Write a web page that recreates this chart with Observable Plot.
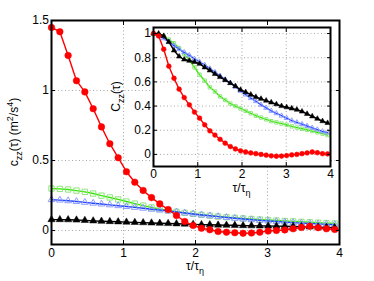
<!DOCTYPE html>
<html><head><meta charset="utf-8">
<script src="https://cdn.jsdelivr.net/npm/d3@7"></script>
<script src="https://cdn.jsdelivr.net/npm/@observablehq/plot@0.6"></script>
<style>
body{margin:0;background:#fff;}
#wrap{position:relative;width:374px;height:281px;}
#wrap svg{position:absolute;}
</style></head><body><div id="wrap"></div>
<script>
const tau = [0,0.116,0.231,0.347,0.463,0.579,0.694,0.810,0.926,1.041,1.157,1.273,1.389,1.504,1.620,1.736,1.851,1.967,2.083,2.199,2.314,2.430,2.546,2.661,2.777,2.893,3.009,3.124,3.240,3.356,3.471,3.587,3.703,3.819,3.934];
// main: c_zz(tau) (m^2/s^4)
const cRed = [1.45,1.42,1.25,1.07,0.99,0.87,0.74,0.62,0.52,0.42,0.345,0.286,0.235,0.19,0.15,0.107,0.064,0.036,0.016,0.005,-0.007,-0.012,-0.016,-0.02,-0.018,-0.012,-0.004,0.0,0.004,0.012,0.022,0.03,0.02,0.012,0.007];
const cGreen = [0.30,0.297,0.293,0.285,0.276,0.264,0.249,0.236,0.222,0.207,0.192,0.178,0.165,0.153,0.143,0.134,0.126,0.119,0.112,0.106,0.100,0.095,0.090,0.086,0.082,0.078,0.075,0.071,0.068,0.065,0.062,0.059,0.056,0.053,0.050];
const cBlue = [0.22,0.217,0.212,0.207,0.201,0.195,0.189,0.183,0.177,0.171,0.165,0.159,0.152,0.146,0.139,0.132,0.125,0.118,0.111,0.105,0.099,0.093,0.087,0.082,0.077,0.072,0.068,0.064,0.060,0.056,0.053,0.050,0.047,0.044,0.041];
const cBlack = [0.078,0.078,0.077,0.075,0.072,0.069,0.066,0.064,0.062,0.060,0.058,0.056,0.054,0.052,0.050,0.048,0.046,0.044,0.042,0.041,0.039,0.038,0.037,0.035,0.034,0.033,0.032,0.031,0.030,0.029,0.027,0.026,0.024,0.022,0.020];
// inset: normalised C_zz(tau)
const CRed = [1.0,0.98,0.87,0.73,0.63,0.54,0.47,0.41,0.35,0.30,0.245,0.195,0.16,0.125,0.093,0.065,0.045,0.03,0.02,0.012,0.006,0.0,-0.006,-0.012,-0.015,-0.014,-0.01,-0.004,0.0,0.006,0.012,0.02,0.014,0.006,0.004];
const CGreen = [1.0,0.99,0.975,0.95,0.92,0.88,0.83,0.78,0.72,0.66,0.61,0.555,0.52,0.48,0.45,0.42,0.40,0.38,0.36,0.34,0.32,0.305,0.29,0.275,0.265,0.255,0.245,0.232,0.222,0.212,0.203,0.193,0.183,0.172,0.16];
const CBlue = [1.0,0.985,0.96,0.93,0.90,0.87,0.845,0.82,0.79,0.765,0.74,0.71,0.68,0.65,0.62,0.59,0.56,0.525,0.495,0.465,0.44,0.41,0.385,0.36,0.34,0.32,0.30,0.28,0.265,0.25,0.235,0.22,0.205,0.19,0.18];
const CBlack = [1.0,1.0,0.98,0.93,0.86,0.81,0.785,0.775,0.765,0.75,0.72,0.695,0.665,0.64,0.615,0.59,0.565,0.535,0.515,0.495,0.475,0.46,0.445,0.43,0.415,0.40,0.39,0.38,0.37,0.355,0.335,0.315,0.295,0.275,0.26];
// ticks
const mainXTicks = [0,1,2,3,4];
const mainYTicks = [0,0.5,1,1.5];
const insetXTicks = [0,1,2,3,4];
const insetYTicks = [0,0.2,0.4,0.6,0.8,1];

const font = '"Liberation Sans", Arial, Helvetica, sans-serif';
const rows = ys => tau.map((t,i)=>({t, v: ys[i]}));
const grid = {stroke:"#a8a8a8", strokeOpacity:1, strokeDasharray:"1,2.5", strokeWidth:1};
const RED="#ff0000", GREEN="#33e600", GREENM="#8fe67c", BLUE="#2244ff", BLUEM="#8c9cff", BLACK="#000";

function series(s){
  return [
    Plot.line(rows(s.g), {x:"t", y:"v", stroke:GREEN, strokeWidth:1.4}),
    Plot.dot(rows(s.g), {x:"t", y:"v", symbol:"square", r:s.rs, stroke:GREENM, fill:"none", strokeWidth:1}),
    Plot.line(rows(s.b), {x:"t", y:"v", stroke:BLUE, strokeWidth:1.4}),
    Plot.dot(rows(s.b), {x:"t", y:"v", symbol:"triangle", r:s.rt, stroke:BLUEM, fill:"none", strokeWidth:1}),
    Plot.line(rows(s.k), {x:"t", y:"v", stroke:BLACK, strokeWidth:1.4}),
    Plot.dot(rows(s.k), {x:"t", y:"v", symbol:"triangle", r:s.rk, fill:BLACK, stroke:BLACK, strokeWidth:0.5}),
    Plot.line(rows(s.r), {x:"t", y:"v", stroke:RED, strokeWidth:1.4}),
    Plot.dot(rows(s.r), {x:"t", y:"v", r:s.rc, fill:RED, stroke:RED, strokeWidth:0.5})
  ];
}
function axes(xt, yt, pad){
  const ts = -4;
  return [
    Plot.axisX(xt, {anchor:"bottom", tickSize:ts, tickPadding:pad, label:null, fontSize:12, tickFormat:d=>String(d)}),
    Plot.axisX(xt, {anchor:"top", tickSize:ts, label:null, tickFormat:()=>""}),
    Plot.axisY(yt, {anchor:"left", tickSize:ts, tickPadding:6.5, label:null, fontSize:12, tickFormat:d=>String(d)}),
    Plot.axisY(yt, {anchor:"right", tickSize:ts, label:null, tickFormat:()=>""})
  ];
}

const mainPlot = Plot.plot({
  width:374, height:281, marginLeft:51, marginRight:35, marginTop:20, marginBottom:37,
  style:{fontFamily:font, fontSize:"12px", background:"transparent", overflow:"visible", color:"black"},
  x:{domain:[0,4]}, y:{domain:[-0.1,1.5]},
  marks:[
    Plot.gridX(mainXTicks.slice(1,-1), grid),
    Plot.gridY(mainYTicks.slice(0,-1), grid),
    ...series({g:cGreen,b:cBlue,k:cBlack,r:cRed, rs:3, rt:2.5, rk:2.7, rc:3.3}),
    ...axes(mainXTicks, mainYTicks, 8),
    Plot.frame({stroke:"black", strokeWidth:2})
  ]
});

const iML=45, iMT=5, iMB=37, iMR=12, iW=177, iH=139;
const insetPlot = Plot.plot({
  width:iML+iW+iMR, height:iMT+iH+iMB, marginLeft:iML, marginRight:iMR, marginTop:iMT, marginBottom:iMB,
  style:{fontFamily:font, fontSize:"12px", background:"transparent", overflow:"visible", color:"black"},
  x:{domain:[0,4]}, y:{domain:[-0.1,1.05]},
  marks:[
    Plot.frame({fill:"white", stroke:"none"}),
    Plot.gridX(insetXTicks.slice(1,-1), grid),
    Plot.gridY(insetYTicks, grid),
    ...series({g:CGreen,b:CBlue,k:CBlack,r:CRed, rs:1.9, rt:1.8, rk:2, rc:2.4}),
    ...axes(insetXTicks, insetYTicks, 7),
    Plot.frame({stroke:"black", strokeWidth:2})
  ]
});

const wrap = document.getElementById("wrap");
mainPlot.style.left="0px"; mainPlot.style.top="0px";
wrap.appendChild(mainPlot);
insetPlot.style.left=(153-iML)+"px"; insetPlot.style.top=(27-iMT)+"px";
wrap.appendChild(insetPlot);

// rich-text labels with sub/superscripts
function rich(svg, x, y, parts, rotate){
  const t = d3.select(svg).append("text")
    .attr("transform", `translate(${x},${y})` + (rotate ? ` rotate(${rotate})` : ""))
    .attr("text-anchor","middle").attr("font-family",font).attr("font-size",12).attr("fill","black");
  let shift = 0;
  for (const p of parts){
    const target = p.sub ? 3.5 : p.sup ? -5 : 0;
    const sp = t.append("tspan").attr("dy", target - shift).text(p.t);
    if (p.sub || p.sup) sp.attr("font-size", 9);
    shift = target;
  }
}
const mx = mainPlot.scale("x"), my = mainPlot.scale("y");
const ix = insetPlot.scale("x"), iy = insetPlot.scale("y");
const tauLab = [{t:"τ/τ"},{t:"η",sub:true}];
rich(mainPlot, mx.apply(2), 270, tauLab);
rich(mainPlot, 18, (my.apply(1.5)+my.apply(-0.1))/2, [{t:"c"},{t:"zz",sub:true},{t:"(τ) (m"},{t:"2",sup:true},{t:"/s"},{t:"4",sup:true},{t:")"}], -90);
rich(insetPlot, ix.apply(2), iMT+iH+26, tauLab);
rich(insetPlot, iML-33, (iy.apply(1.05)+iy.apply(-0.1))/2, [{t:"C"},{t:"zz",sub:true},{t:"(τ)"}], -90);
</script></body></html>
